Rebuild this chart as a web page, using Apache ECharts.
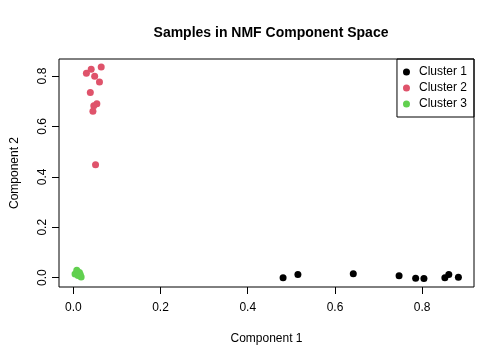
<!DOCTYPE html>
<html>
<head>
<meta charset="utf-8">
<script src="https://cdn.jsdelivr.net/npm/echarts@6/dist/echarts.min.js"></script>
<style>html,body{margin:0;padding:0;background:#fff;}#c{width:504px;height:360px;}</style>
</head>
<body>
<div id="c"></div>
<script>
var seriesNames = ['Cluster 1', 'Cluster 2', 'Cluster 3'];
var seriesColors = ['#000000', '#DF536B', '#61D04F'];
var cluster1 = [[0.481, 0.000], [0.515, 0.013], [0.642, 0.016], [0.747, 0.008], [0.785, -0.002],
                [0.804, -0.003], [0.852, 0.000], [0.861, 0.013], [0.883, 0.002]];
var cluster2 = [[0.064, 0.836], [0.041, 0.827], [0.030, 0.811], [0.049, 0.799], [0.060, 0.776],
                [0.039, 0.735], [0.054, 0.690], [0.047, 0.682], [0.045, 0.660], [0.051, 0.448]];
var cluster3 = [[0.004, 0.015], [0.008, 0.029], [0.014, 0.021], [0.011, 0.009], [0.018, 0.003], [0.016, 0.013]];
var xTicks = [0, 0.2, 0.4, 0.6, 0.8];
var yTicks = [0, 0.2, 0.4, 0.6, 0.8];

var font = 'Liberation Sans, Arial, Helvetica, sans-serif';
var chart = echarts.init(document.getElementById('c'), null, {renderer: 'canvas'});
var allData = [cluster1, cluster2, cluster3];
chart.setOption({
  animation: false,
  backgroundColor: '#ffffff',
  title: {
    text: 'Samples in NMF Component Space',
    left: 266, top: 21, textAlign: 'center',
    textStyle: {fontFamily: font, fontSize: 14, fontWeight: 'bold', color: '#000'}
  },
  legend: {
    orient: 'vertical', right: 30, top: 59,
    data: seriesNames,
    icon: 'circle', itemWidth: 7, itemHeight: 7, itemGap: 4,
    borderColor: '#000', borderWidth: 1, borderRadius: 0,
    padding: [7, 7, 7, 6],
    textStyle: {fontFamily: font, fontSize: 12, color: '#000', padding: [0, 0, 0, 4]}
  },
  grid: {left: 59, right: 30, top: 59, bottom: 73, show: true, borderColor: '#000', borderWidth: 1,
    containLabel: false, outerBoundsMode: 'none'},
  xAxis: {
    type: 'value', min: -0.0328, max: 0.9188,
    name: 'Component 1', nameLocation: 'middle', nameGap: 46,
    nameTextStyle: {fontFamily: font, fontSize: 12, color: '#000'},
    axisLine: {show: false, onZero: false}, splitLine: {show: false},
    axisTick: {show: true, inside: false, length: 7, customValues: xTicks, lineStyle: {color: '#000'}},
    axisLabel: {customValues: xTicks, margin: 15, fontFamily: font, fontSize: 12, color: '#000',
      formatter: function (v) { return v.toFixed(1); }}
  },
  yAxis: {
    type: 'value', min: -0.037, max: 0.8676,
    name: 'Component 2', nameLocation: 'middle', nameGap: 38, nameRotate: 90,
    nameTextStyle: {fontFamily: font, fontSize: 12, color: '#000'},
    axisLine: {show: false, onZero: false}, splitLine: {show: false},
    axisTick: {show: true, inside: false, length: 7, customValues: yTicks, lineStyle: {color: '#000'}},
    axisLabel: {customValues: yTicks, rotate: 90, margin: 10, fontFamily: font, fontSize: 12, color: '#000',
      formatter: function (v) { return v.toFixed(1); }}
  },
  series: seriesNames.map(function (n, i) {
    return {name: n, type: 'scatter', data: allData[i], symbol: 'circle', symbolSize: 7,
      itemStyle: {color: seriesColors[i], opacity: 1}};
  })
});
</script>
</body>
</html>
